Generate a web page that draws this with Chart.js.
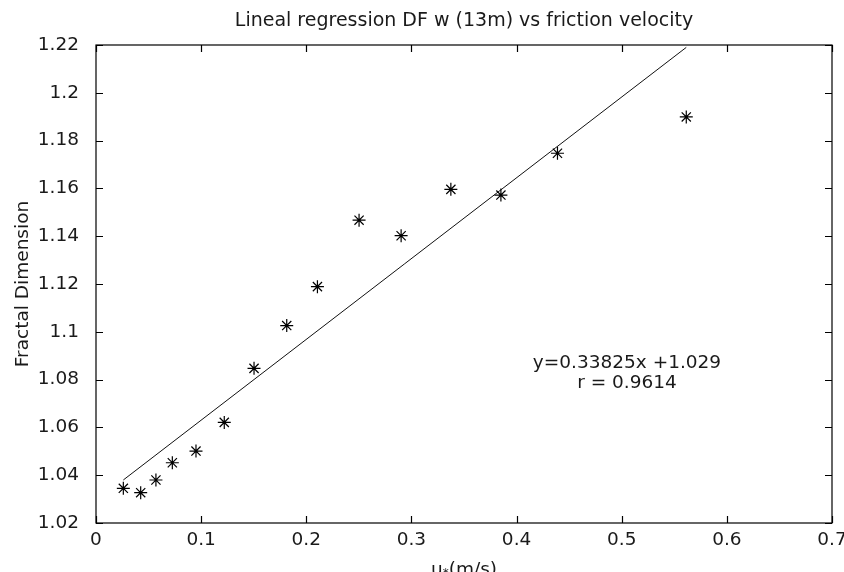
<!DOCTYPE html>
<html>
<head>
<meta charset="utf-8">
<script src="https://cdn.jsdelivr.net/npm/chart.js@4.4.1/dist/chart.umd.min.js"></script>
<style>
  body { margin: 0; background: #fff; }
  canvas { display: block; }
</style>
</head>
<body>
<canvas id="chart" width="844" height="572"></canvas>
<script>
// measured points (u* vs fractal dimension)
const uStar = [0.026, 0.0425, 0.057, 0.0726, 0.0951, 0.122, 0.1503, 0.1814, 0.2106, 0.2502, 0.2902, 0.3375, 0.3851, 0.4389, 0.5614];
const fractalDim = [1.0345, 1.0327, 1.038, 1.0452, 1.0501, 1.0621, 1.0847, 1.1026, 1.1189, 1.1467, 1.1402, 1.1596, 1.1572, 1.1747, 1.1899];

// regression line end points
const fitX = [0.026, 0.5614];
const fitY = [1.038, 1.219];

const xTicks = [0, 0.1, 0.2, 0.3, 0.4, 0.5, 0.6, 0.7];
const yTicks = [1.02, 1.04, 1.06, 1.08, 1.1, 1.12, 1.14, 1.16, 1.18, 1.2, 1.22];

const titleText = 'Lineal regression DF w (13m) vs friction velocity';
const yTitle = 'Fractal Dimension';
const fitLabel = ['y=0.33825x +1.029', 'r = 0.9614'];
const fitLabelAt = { x: 0.505, y: 1.0828 };

const FONT = '"DejaVu Sans", sans-serif';
const INK = '#1a1a1a';

// MATLAB style box with inward ticks on all four sides
const boxTicks = {
  id: 'boxTicks',
  afterDatasetsDraw(chart) {
    const { ctx, chartArea: a, scales: { x, y } } = chart;
    const len = 7;
    ctx.save();
    ctx.strokeStyle = '#000';
    ctx.lineWidth = 1.2;
    ctx.strokeRect(a.left, a.top, a.right - a.left, a.bottom - a.top);
    ctx.beginPath();
    xTicks.forEach(v => {
      const px = Math.round(x.getPixelForValue(v)) + 0.5;
      ctx.moveTo(px, a.bottom); ctx.lineTo(px, a.bottom - len);
      ctx.moveTo(px, a.top); ctx.lineTo(px, a.top + len);
    });
    yTicks.forEach(v => {
      const py = Math.round(y.getPixelForValue(v)) + 0.5;
      ctx.moveTo(a.left, py); ctx.lineTo(a.left + len, py);
      ctx.moveTo(a.right, py); ctx.lineTo(a.right - len, py);
    });
    ctx.stroke();

    // regression text
    ctx.fillStyle = INK;
    ctx.font = '18.5px ' + FONT;
    ctx.textAlign = 'center';
    ctx.textBaseline = 'middle';
    const cx = x.getPixelForValue(fitLabelAt.x);
    const cy = y.getPixelForValue(fitLabelAt.y);
    ctx.fillText(fitLabel[0], cx, cy - 10);
    ctx.fillText(fitLabel[1], cx, cy + 10);

    // x label u*(m/s) with subscript star
    const midX = (a.left + a.right) / 2;
    const base = 575;
    ctx.textAlign = 'left';
    ctx.textBaseline = 'alphabetic';
    const big = '18.5px ' + FONT, small = '12px ' + FONT;
    ctx.font = big;
    const wu = ctx.measureText('u').width;
    const wr = ctx.measureText('(m/s)').width;
    ctx.font = small;
    const ws = ctx.measureText('*').width;
    let sx = midX - (wu + ws + wr) / 2;
    ctx.font = big;
    ctx.fillText('u', sx, base);
    sx += wu;
    ctx.font = small;
    ctx.fillText('*', sx, base + 2);
    sx += ws;
    ctx.font = big;
    ctx.fillText('(m/s)', sx, base);
    ctx.restore();
  }
};

const fmt = v => String(parseFloat(Number(v).toFixed(2)));

new Chart(document.getElementById('chart'), {
  type: 'scatter',
  data: {
    datasets: [
      {
        label: 'data',
        data: uStar.map((u, i) => ({ x: u, y: fractalDim[i] })),
        pointStyle: 'star',
        pointRadius: 6.5,
        borderColor: '#000',
        backgroundColor: '#000',
        borderWidth: 1.2
      },
      {
        label: 'fit',
        data: fitX.map((u, i) => ({ x: u, y: fitY[i] })),
        showLine: true,
        pointRadius: 0,
        borderColor: '#111',
        borderWidth: 1
      }
    ]
  },
  options: {
    responsive: false,
    animation: false,
    layout: { padding: { left: 0, right: 12, top: 0, bottom: 0 } },
    plugins: {
      legend: { display: false },
      tooltip: { enabled: false },
      title: {
        display: true,
        fullSize: false,
        text: titleText,
        color: INK,
        font: { family: FONT, size: 19, weight: 'normal' },
        padding: { top: 10, bottom: 12.2 }
      }
    },
    scales: {
      x: {
        type: 'linear',
        min: 0,
        max: 0.7,
        afterBuildTicks: s => { s.ticks = xTicks.map(v => ({ value: v })); },
        afterFit: s => { s.height = 49; s.paddingLeft = 0; s.paddingRight = 0; },
        grid: { display: false },
        border: { display: false },
        ticks: {
          color: INK,
          padding: 0,
          maxRotation: 0,
          font: { family: FONT, size: 18.5, lineHeight: 1 },
          callback: fmt
        }
      },
      y: {
        type: 'linear',
        min: 1.02,
        max: 1.22,
        afterBuildTicks: s => { s.ticks = yTicks.map(v => ({ value: v })); },
        afterFit: s => { s.width = 96; s.paddingTop = 0; s.paddingBottom = 0; },
        grid: { display: false },
        border: { display: false },
        title: {
          display: true,
          text: yTitle,
          color: INK,
          font: { family: FONT, size: 18.5 },
          padding: { top: 12, bottom: 0 }
        },
        ticks: {
          color: INK,
          padding: 9,
          font: { family: FONT, size: 18.5 },
          callback: fmt
        }
      }
    }
  },
  plugins: [boxTicks]
});
</script>
</body>
</html>
